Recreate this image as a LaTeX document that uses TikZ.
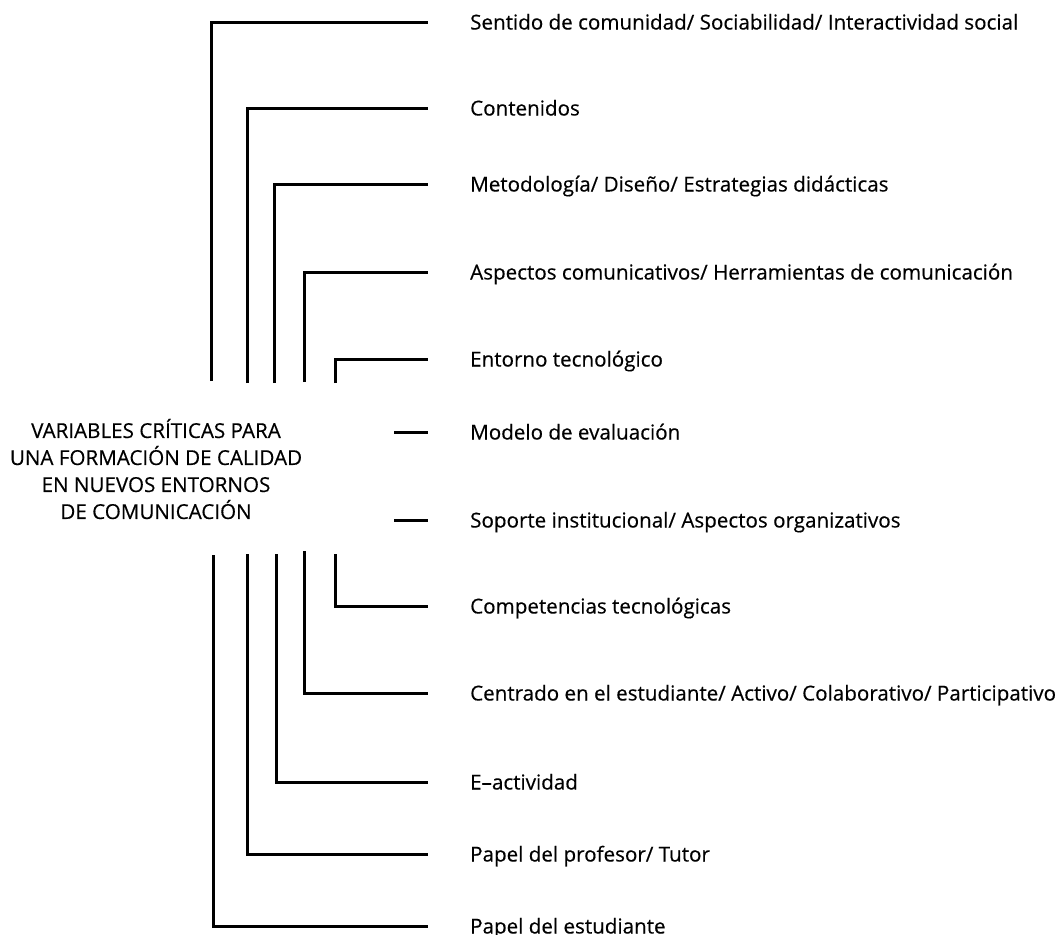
\documentclass[tikz,border=0pt]{standalone}
\usepackage{fontspec}
\setmainfont{Open Sans}[FakeBold=0.4]

\begin{document}
\begin{tikzpicture}[
  x=1pt,y=-1pt,
  font=\fontsize{20.6}{27}\selectfont,
  lab/.style ={anchor=west,inner sep=0pt,text height=15pt,text depth=0pt},
  tit/.style ={align=center,inner sep=0pt},
  br/.style  ={line width=3pt,shorten >=42pt}]

\useasboundingbox (0,0) rectangle (1061,935);

% ---------- central title ----------
\node[tit] (var) at (156,469) {VARIABLES CRÍTICAS PARA\\UNA FORMACIÓN DE CALIDAD\\EN NUEVOS ENTORNOS\\DE COMUNICACIÓN};

% ---------- labels ----------
\node[lab] (l1)  at (470,22)  {Sentido de comunidad/ Sociabilidad/ Interactividad social};
\node[lab] (l2)  at (470,108) {Contenidos};
\node[lab] (l3)  at (470,184) {Metodología/ Diseño/ Estrategias didácticas};
\node[lab] (l4)  at (470,272) {Aspectos comunicativos/ Herramientas de comunicación};
\node[lab] (l5)  at (470,359) {Entorno tecnológico};
\node[lab] (l6)  at (470,432) {Modelo de evaluación};
\node[lab] (l7)  at (470,520) {Soporte institucional/ Aspectos organizativos};
\node[lab] (l8)  at (470,606) {Competencias tecnológicas};
\node[lab] (l9)  at (470,693) {Centrado en el estudiante/ Activo/ Colaborativo/ Participativo};
\node[lab] (l10) at (470,782) {E--actividad};
\node[lab] (l11) at (470,854) {Papel del profesor/ Tutor};
\node[lab] (l12) at (470,926) {Papel del estudiante};

% ---------- bracket ends ----------
\coordinate (a1) at (211,381); \coordinate (b1) at (213,555);
\coordinate (a2) at (247,383); \coordinate (b2) at (247,554);
\coordinate (a3) at (274,383); \coordinate (b3) at (276,554);
\coordinate (a4) at (304,382); \coordinate (b4) at (304,551);
\coordinate (a5) at (335,383); \coordinate (b5) at (335,554);
\coordinate (d6) at (394,432); \coordinate (d7) at (394,520);

% ---------- upper brackets ----------
\draw[br] (a1) |- (l1.west);
\draw[br] (a2) |- (l2.west);
\draw[br] (a3) |- (l3.west);
\draw[br] (a4) |- (l4.west);
\draw[br] (a5) |- (l5.west);

% ---------- dashes ----------
\draw[br] (d6) -- (d6 -| l6.west);
\draw[br] (d7) -- (d7 -| l7.west);

% ---------- lower brackets ----------
\draw[br] (b5) |- (l8.west);
\draw[br] (b4) |- (l9.west);
\draw[br] (b3) |- (l10.west);
\draw[br] (b2) |- (l11.west);
\draw[br] (b1) |- (l12.west);

\end{tikzpicture}
\end{document}
